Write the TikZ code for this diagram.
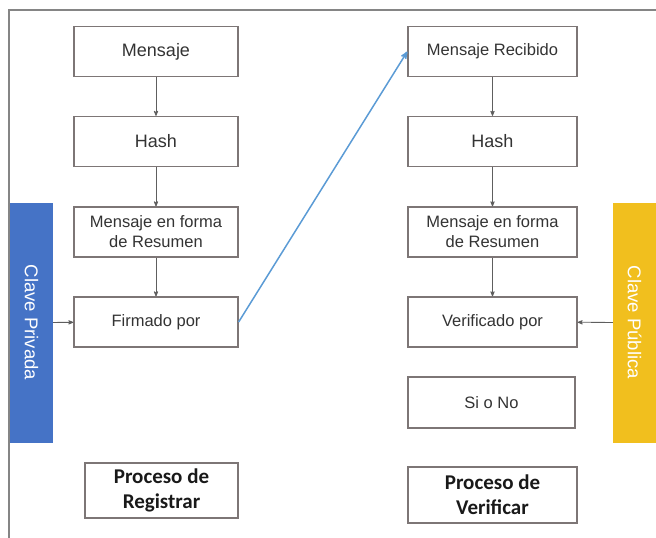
\documentclass[tikz,border=0pt]{standalone}
\usepackage{fontspec}
\setmainfont{Liberation Sans}
\newfontfamily\carlito{Carlito}
\usetikzlibrary{arrows}

\definecolor{boxline}{HTML}{7D7676}
\definecolor{boxtext}{HTML}{333333}
\definecolor{conngray}{HTML}{5E5E5E}
\definecolor{linkblue}{HTML}{5B9BD5}
\definecolor{framegray}{HTML}{858585}
\definecolor{privfill}{HTML}{4573C6}
\definecolor{pubfill}{HTML}{F1BF1E}

\begin{document}
\begin{tikzpicture}[x=1pt,y=-1pt,->,>=stealth',
    base box/.style={draw=boxline,line width=1.3pt,minimum width=164pt,minimum height=50pt,
      align=center,text=boxtext,inner sep=2pt,font=\fontsize{16.5}{20}\selectfont},
    big box/.style={base box,font=\fontsize{18}{21}\selectfont},
    wide box/.style={base box,minimum width=169pt},
    title box/.style={base box,text=black!90,font=\carlito\bfseries\fontsize{21}{25}\selectfont},
    key bar/.style={rotate=-90,minimum width=240pt,minimum height=43pt,inner sep=0pt,
      text=white,font=\fontsize{18.5}{20}\selectfont},
    flow/.style={draw=conngray,line width=0.8pt},
    link/.style={draw=linkblue,line width=1.5pt}]

  \useasboundingbox (0,0) rectangle (656,538);
  \draw[-,framegray,line width=1.8pt] (656,10) -- (9,10) -- (9,538);

  % registrar
  \node[big box] (msg) at (156,51.5) {Mensaje};
  \node[big box] (hashA) at (156,141.5) {Hash};
  \node[base box] (digA) at (156,232) {Mensaje en forma\\de Resumen};
  \node[base box] (sign) at (156,322) {Firmado por};
  \node[title box,minimum width=153pt,minimum height=55pt] (procA) at (161.5,490.5) {Proceso de\\Registrar};

  % verificar
  \node[wide box] (recv) at (492.5,51.5) {Mensaje Recibido};
  \node[wide box,font=\fontsize{18}{21}\selectfont] (hashB) at (492.5,141.5) {Hash};
  \node[wide box] (digB) at (492.5,232) {Mensaje en forma\\de Resumen};
  \node[wide box] (verif) at (492.5,322) {Verificado por};
  \node[base box,minimum width=167pt,minimum height=51pt] (yesno) at (491.5,402.5) {Si o No};
  \node[title box,minimum width=169pt,minimum height=56pt] (procB) at (492.5,495) {Proceso de\\Verificar};

  % claves
  \node[key bar,fill=privfill] (privkey) at (31.5,322.5) {Clave Privada};
  \node[key bar,fill=pubfill] (pubkey) at (634.5,322.5) {Clave Pública};

  \path
    (msg) edge[flow] (hashA)
    (hashA) edge[flow] (digA)
    (digA) edge[flow] (sign)
    (privkey) edge[flow] (sign)
    (recv) edge[flow] (hashB)
    (hashB) edge[flow] (digB)
    (digB) edge[flow] (verif)
    (pubkey) edge[flow] (verif)
    (sign.east) edge[link] (recv.west)
  ;
\end{tikzpicture}
\end{document}
